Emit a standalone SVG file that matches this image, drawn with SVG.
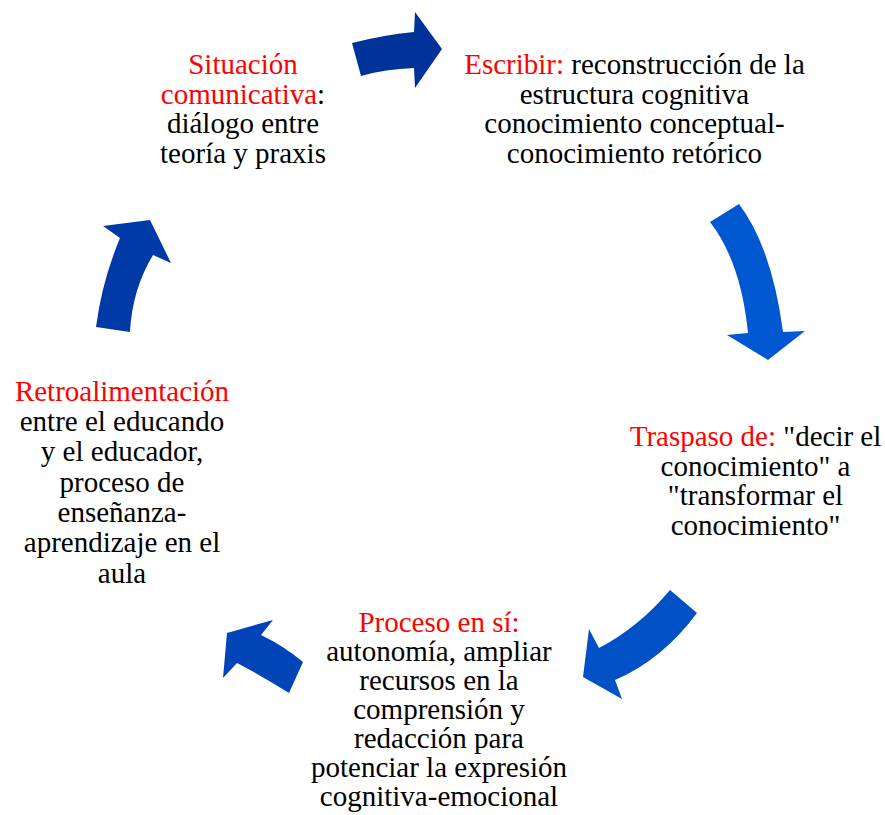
<svg xmlns="http://www.w3.org/2000/svg" width="885" height="815" viewBox="0 0 885 815" font-family="'Liberation Serif', 'Times New Roman', serif">
<style>
text{font-size:29px;fill:#000;text-anchor:middle}
.r{fill:#ff0000}
</style>
<rect width="885" height="815" fill="#fff"/>
<g id="connectors">
<path id="a1" fill="#003399" d="M352,43 Q383,35 414,32 L415,12 L442,49 L415,88 L414,68 Q385,69 361,76 Z"/>
<path id="a2" fill="#0057d2" d="M710,222 L739,204 Q772,248 783,332 L805,331 L768,360 L727,335 L748,333 Q741,262 710,222 Z"/>
<path id="a3" fill="#0050c6" d="M670,590 L697,613 Q662,660 615,680 L622,699 L583,677 L589,629 L599,648 Q639,627 670,590 Z"/>
<path id="a4" fill="#0044b8" d="M227,633 L273,620 L261,635 Q284,646 303,662 L289,693 Q262,676 237,663 L223,678 Z"/>
<path id="a5" fill="#003aa6" d="M96,327 L130,332 Q132,290 153,255 L171,263 L150,220 L103,226 L120,238 Q102,281 96,327 Z"/>
</g>
<g id="n1" font-family="Liberation Serif, serif">
<text x="243" y="74"><tspan class="r">Situación</tspan></text>
<text x="243" y="103.5"><tspan class="r">comunicativa</tspan>:</text>
<text x="243" y="133">diálogo entre</text>
<text x="243" y="162.5">teoría y praxis</text>
</g>
<g id="n2" font-family="Liberation Serif, serif">
<text x="634.5" y="74"><tspan class="r">Escribir:</tspan> reconstrucción de la</text>
<text x="634.5" y="103.5">estructura cognitiva</text>
<text x="634.5" y="133">conocimiento conceptual-</text>
<text x="634.5" y="162.5">conocimiento retórico</text>
</g>
<g id="n3" font-family="Liberation Serif, serif">
<text x="755.5" y="446"><tspan class="r">Traspaso de:</tspan> "decir el</text>
<text x="755.5" y="475.5">conocimiento" a</text>
<text x="755.5" y="505">"transformar el</text>
<text x="755.5" y="534.5">conocimiento"</text>
</g>
<g id="n4" font-family="Liberation Serif, serif">
<text x="439" y="632"><tspan class="r">Proceso en sí:</tspan></text>
<text x="439" y="661">autonomía, ampliar</text>
<text x="439" y="690">recursos en la</text>
<text x="439" y="719">comprensión y</text>
<text x="439" y="748">redacción para</text>
<text x="439" y="777">potenciar la expresión</text>
<text x="439" y="806">cognitiva-emocional</text>
</g>
<g id="n5" font-family="Liberation Serif, serif">
<text x="122" y="401"><tspan class="r">Retroalimentación</tspan></text>
<text x="122" y="431">entre el educando</text>
<text x="122" y="461">y el educador,</text>
<text x="122" y="491.5">proceso de</text>
<text x="122" y="522">enseñanza-</text>
<text x="122" y="552">aprendizaje en el</text>
<text x="122" y="582.5">aula</text>
</g>
</svg>
